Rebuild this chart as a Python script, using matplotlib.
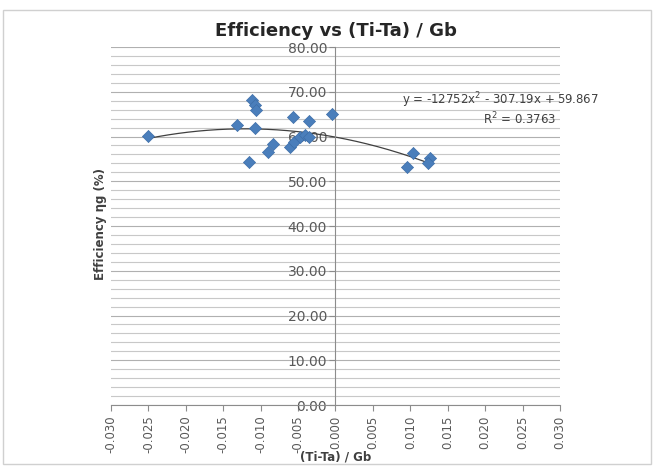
import numpy as np
import matplotlib
matplotlib.use("Agg")
import matplotlib.pyplot as plt
from matplotlib.patches import Rectangle

# data
ratio = [-0.0250, -0.0132, -0.0111, -0.0108, -0.0106, -0.0108, -0.0115,
         -0.0090, -0.0084, -0.0057, -0.0036, -0.0005, -0.0061, -0.0055,
         -0.0048, -0.0041, -0.0035, 0.0103, 0.0095, 0.0126, 0.0123]
efficiency = [60.1, 62.6, 68.2, 67.0, 65.9, 61.9, 54.3,
              56.5, 58.3, 64.4, 63.5, 65.0, 57.7, 58.8,
              59.9, 60.3, 59.9, 56.3, 53.2, 55.2, 54.1]
coef = [-12752, -307.19, 59.867]
x_ticks = [-0.030, -0.025, -0.020, -0.015, -0.010, -0.005, 0.0,
           0.005, 0.010, 0.015, 0.020, 0.025, 0.030]
y_ticks = [0, 10, 20, 30, 40, 50, 60, 70, 80]

fig = plt.figure(figsize=(6.54, 4.66), dpi=100)
fig.patches.append(Rectangle((0.004, 0.004), 0.992, 0.975, transform=fig.transFigure,
                             fill=False, edgecolor="#d0d0d0", linewidth=1))
ax = fig.add_axes([0.1697, 0.1309, 0.6865, 0.7682])

# gridlines
for v in np.arange(0, 81, 2):
    ax.axhline(v, color="#c8c8c8" if v % 10 else "#b0b0b0", linewidth=0.8, zorder=0)

ax.scatter(ratio, efficiency, marker="D", s=38, color="#4a7ebb",
           edgecolors="#3d6ea8", linewidths=0.5, zorder=3)

xs = np.linspace(min(ratio), max(ratio), 200)
ax.plot(xs, np.polyval(coef, xs), color="#404040", linewidth=0.9, zorder=2)

ax.set_xlim(-0.030, 0.030)
ax.set_ylim(0, 80)
ax.set_xticks(x_ticks)
ax.set_xticklabels([f"{t:.3f}" for t in x_ticks], rotation=90, fontsize=8.5)
ax.set_yticks(y_ticks)
ax.set_yticklabels([f"{t:.2f}" for t in y_ticks], fontsize=10)

ax.spines["left"].set_position(("data", 0))
ax.spines["top"].set_visible(False)
ax.spines["right"].set_visible(False)
for s in ("left", "bottom"):
    ax.spines[s].set_color("#8c8c8c")
    ax.spines[s].set_linewidth(0.8)
ax.tick_params(axis="both", color="#8c8c8c", labelcolor="#595959", length=4, direction="out")
ax.tick_params(axis="y", pad=2)

ax.set_title("Efficiency vs (Ti-Ta) / Gb", fontsize=13, fontweight="bold",
             color="#262626", pad=8)
ax.set_xlabel("(Ti-Ta) / Gb", fontsize=8.5, fontweight="bold", color="#404040", labelpad=-2)
fig.text(0.153, 0.52, "Efficiency ηg (%)", rotation=90, fontsize=8.5, fontweight="bold",
         color="#404040", ha="center", va="center")

ax.text(0.0220, 68.2, "y = -12752x$^2$ - 307.19x + 59.867", fontsize=8.5,
        color="#404040", ha="center", va="center")
ax.text(0.0246, 64.0, "R$^2$ = 0.3763", fontsize=8.5, color="#404040",
        ha="center", va="center")

fig.savefig("out.png", dpi=100)
